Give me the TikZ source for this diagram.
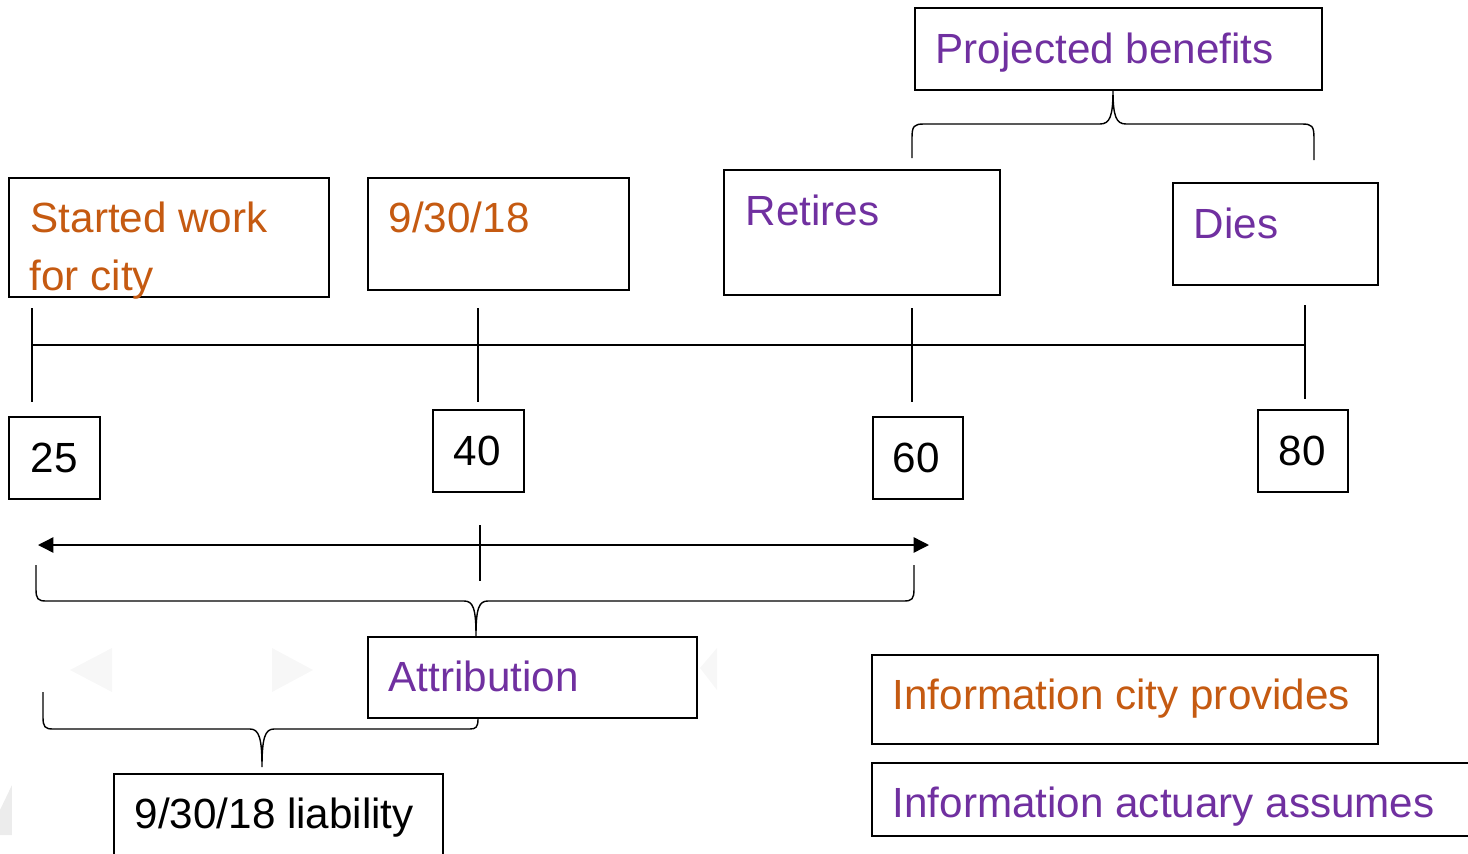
\documentclass[tikz,border=0pt]{standalone}
\usepackage{fontspec}
\setmainfont{Liberation Sans}
\usetikzlibrary{arrows.meta}
\definecolor{orng}{RGB}{197,90,17}
\definecolor{purp}{RGB}{112,48,160}
\definecolor{ghost}{RGB}{247,247,247}
\definecolor{ghost2}{RGB}{236,236,236}
\begin{document}
\begin{tikzpicture}[x=0.01cm,y=-0.01cm,
  boxnode/.style={draw=black,line width=0.5pt,inner sep=0pt,outer sep=0pt,anchor=north west},
  txt/.style={anchor=base west,inner sep=0pt,font=\fontsize{12}{14}\selectfont},
  ln/.style={line width=0.4pt,black}]
\useasboundingbox (0,0) rectangle (1468,854);
\clip (0,0) rectangle (1468,854);
% faint background marks
\fill[ghost] (70,670) -- (112,648) -- (112,692) -- cycle;
\fill[ghost] (313,670) -- (272,648) -- (272,692) -- cycle;
\fill[ghost2] (0,810) -- (12,785) -- (12,835) -- (0,835) -- cycle;
\fill[ghost] (700,668) -- (717,648) -- (717,690) -- cycle;
% boxes (sizes in cm: 1 px = 0.01 cm)
\node[boxnode,minimum width=4.07cm,minimum height=0.82cm] (pb) at (915,8) {};
\node[boxnode,minimum width=3.20cm,minimum height=1.19cm] (sw) at (9,178) {};
\node[boxnode,minimum width=2.61cm,minimum height=1.12cm] (d1) at (368,178) {};
\node[boxnode,minimum width=2.76cm,minimum height=1.25cm] (rt) at (724,170) {};
\node[boxnode,minimum width=2.05cm,minimum height=1.02cm] (di) at (1173,183) {};
\node[boxnode,minimum width=0.91cm,minimum height=0.82cm] (b25) at (9,417) {};
\node[boxnode,minimum width=0.91cm,minimum height=0.82cm] (b40) at (433,410) {};
\node[boxnode,minimum width=0.90cm,minimum height=0.82cm] (b60) at (873,417) {};
\node[boxnode,minimum width=0.90cm,minimum height=0.82cm] (b80) at (1258,410) {};
\node[boxnode,minimum width=3.29cm,minimum height=0.81cm] (at) at (368,637) {};
\node[boxnode,minimum width=3.29cm,minimum height=1.00cm] (li) at (114,774) {};
\node[boxnode,minimum width=5.06cm,minimum height=0.89cm] (ic) at (872,655) {};
\node[boxnode,minimum width=6.20cm,minimum height=0.73cm] (ia) at (872,763) {};
% texts
\node[txt,text=purp] (tpb) at (935,63) {Projected benefits};
\node[txt,text=orng] (tsw1) at (30,232) {Started work};
\node[txt,text=orng] (tsw2) at (29,290) {for city};
\node[txt,text=orng] (td1) at (388,232) {9/30/18};
\node[txt,text=purp] (trt) at (745,225) {Retires};
\node[txt,text=purp] (tdi) at (1193,238) {Dies};
\node[txt] (t25) at (30,472) {25};
\node[txt] (t40) at (453,465) {40};
\node[txt] (t60) at (892,472) {60};
\node[txt] (t80) at (1278,465) {80};
\node[txt,text=purp] (tat) at (388,691) {Attribution};
\node[txt] (tli) at (134,828) {9/30/18 liability};
\node[txt,text=orng] (tic) at (892,709) {Information city provides};
\node[txt,text=purp] (tia) at (892,817) {Information actuary assumes};
% timeline
\coordinate (tlL) at (32,345);
\coordinate (tlR) at (1305,345);
\draw[ln] (tlL) -- (tlR);
\coordinate (k1a) at (32,308); \coordinate (k1b) at (32,402);
\coordinate (k2a) at (478,308); \coordinate (k2b) at (478,402);
\coordinate (k3a) at (912,308); \coordinate (k3b) at (912,402);
\coordinate (k4a) at (1305,305); \coordinate (k4b) at (1305,399);
\draw[ln] (k1a) -- (k1b);
\draw[ln] (k2a) -- (k2b);
\draw[ln] (k3a) -- (k3b);
\draw[ln] (k4a) -- (k4b);
% double arrow
\coordinate (arL) at (38,545);
\coordinate (arR) at (929,545);
\draw[ln,{Triangle[length=4.4pt,width=4.4pt]}-{Triangle[length=4.4pt,width=4.4pt]}] (arL) -- (arR);
\coordinate (mkA) at (480,525); \coordinate (mkB) at (480,581);
\draw[ln] (mkA) -- (mkB);
% top brace
\coordinate (tbL) at (912,158);
\coordinate (tbC) at (1113,90);
\coordinate (tbR) at (1314,160);
\draw[ln] (tbL) -- (912,138) .. controls (912,126) and (914,124) .. (924,124)
  -- (1100,124) .. controls (1110,124) and (1113,116) .. (tbC)
  .. controls (1113,116) and (1116,124) .. (1126,124)
  -- (1302,124) .. controls (1312,124) and (1314,126) .. (1314,138) -- (tbR);
% middle brace
\coordinate (mbL) at (36,565);
\coordinate (mbC) at (476,636);
\coordinate (mbR) at (914,565);
\draw[ln] (mbL) -- (36,589) .. controls (36,599) and (38,601) .. (46,601)
  -- (464,601) .. controls (473,601) and (476,608) .. (mbC)
  .. controls (476,608) and (479,601) .. (488,601)
  -- (904,601) .. controls (912,601) and (914,599) .. (914,589) -- (mbR);
% lower brace
\coordinate (lbL) at (43,692);
\coordinate (lbC) at (262,767);
\coordinate (lbR) at (478,719);
\draw[ln] (lbL) -- (43,717) .. controls (43,727) and (45,729) .. (53,729)
  -- (250,729) .. controls (259,729) and (262,738) .. (lbC)
  .. controls (262,738) and (265,729) .. (274,729)
  -- (470,729) .. controls (476,729) and (478,727) .. (lbR);
\end{tikzpicture}
\end{document}
